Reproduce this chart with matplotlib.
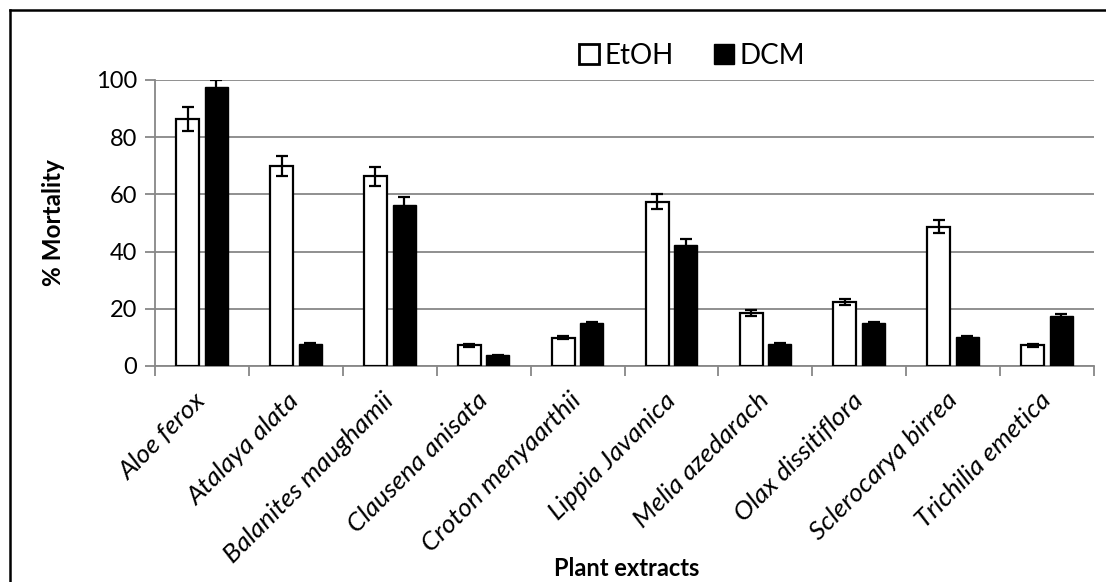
import numpy as np
import matplotlib
matplotlib.use("Agg")
import matplotlib.pyplot as plt
from matplotlib.lines import Line2D

plants = ["Aloe ferox", "Atalaya alata", "Balanites maughamii", "Clausena anisata",
          "Croton menyaarthii", "Lippia Javanica", "Melia azedarach",
          "Olax dissitiflora", "Sclerocarya birrea", "Trichilia emetica"]
etoh = [86.3, 70.0, 66.3, 7.3, 9.9, 57.5, 18.6, 22.4, 48.7, 7.3]
etoh_err = [4.3, 3.4, 3.2, 0.5, 0.5, 2.7, 1.0, 1.0, 2.3, 0.5]
dcm = [97.7, 7.6, 56.2, 3.7, 14.9, 42.3, 7.6, 14.9, 10.0, 17.5]
dcm_err = [2.3, 0.3, 2.8, 0.2, 0.5, 2.0, 0.3, 0.5, 0.5, 0.6]

plt.rcParams['font.family'] = ['Lato', 'DejaVu Sans']

W, H = 1106, 582
fig = plt.figure(figsize=(W / 100, H / 100), dpi=100)
ax = fig.add_axes([155 / W, (H - 366) / H, 939 / W, 286 / H])

grey = '#878787'
x = np.arange(len(plants))
bw = 0.245
off = 0.152
ax.bar(x - off, etoh, bw, color='white', edgecolor='black', linewidth=1.6, zorder=3,
       label='EtOH')
ax.bar(x + off, dcm, bw, color='black', edgecolor='black', linewidth=1.0, zorder=3,
       label='DCM')
ax.errorbar(x - off, etoh, yerr=etoh_err, fmt='none', ecolor='black', elinewidth=1.6,
            capsize=4, capthick=1.6, zorder=4)
ax.errorbar(x + off, dcm, yerr=dcm_err, fmt='none', ecolor='black', elinewidth=1.6,
            capsize=4, capthick=1.6, zorder=4)

ax.set_xlim(-0.5, len(plants) - 0.5)
ax.set_ylim(0, 100)
ax.set_yticks(range(0, 101, 20))
ax.yaxis.grid(True, color=grey, linewidth=1.3)
ax.set_axisbelow(True)
for s in ['top', 'right']:
    ax.spines[s].set_visible(False)
for s in ['left', 'bottom']:
    ax.spines[s].set_color(grey)
    ax.spines[s].set_linewidth(1.3)

ax.set_xticks(np.arange(len(plants) + 1) - 0.5, minor=False)
ax.set_xticklabels([])
ax.set_xticks(x, minor=True)
ax.set_xticklabels(plants, minor=True, rotation=45, ha='right', va='center',
                   rotation_mode='anchor', style='italic', fontsize=19)
ax.tick_params(axis='x', which='major', length=7, color=grey, width=1.3)
ax.tick_params(axis='x', which='minor', length=0, pad=22)
ax.tick_params(axis='y', length=7, color=grey, width=1.3, labelsize=17, pad=6)

ax.set_ylabel('% Mortality', fontsize=17.5, fontweight='bold')
ax.yaxis.set_label_coords(-(155 - 65) / 939, 0.5)
ax.set_xlabel('Plant extracts', fontsize=17, fontweight='bold')
ax.xaxis.set_label_coords((627 - 155) / 939, -(557 - 366) / 286)

handles = [Line2D([], [], marker='s', linestyle='none', markersize=14,
                  markerfacecolor='white', markeredgecolor='black', markeredgewidth=2.0),
           Line2D([], [], marker='s', linestyle='none', markersize=14,
                  markerfacecolor='black', markeredgecolor='black')]
fig.legend(handles, ['EtOH', 'DCM'], loc='center', bbox_to_anchor=(690 / W, 1 - 56 / H),
           ncol=2, frameon=False, fontsize=20, handletextpad=0.05, columnspacing=1.3,
           handlelength=1.0)

# chart-area border
fig.add_artist(Line2D([10 / W, 10 / W], [0, 1 - 10 / H], color='black', linewidth=1.8,
                      transform=fig.transFigure))
fig.add_artist(Line2D([10 / W, 1], [1 - 10 / H, 1 - 10 / H], color='black', linewidth=1.8,
                      transform=fig.transFigure))

fig.savefig('out.png', dpi=100)
